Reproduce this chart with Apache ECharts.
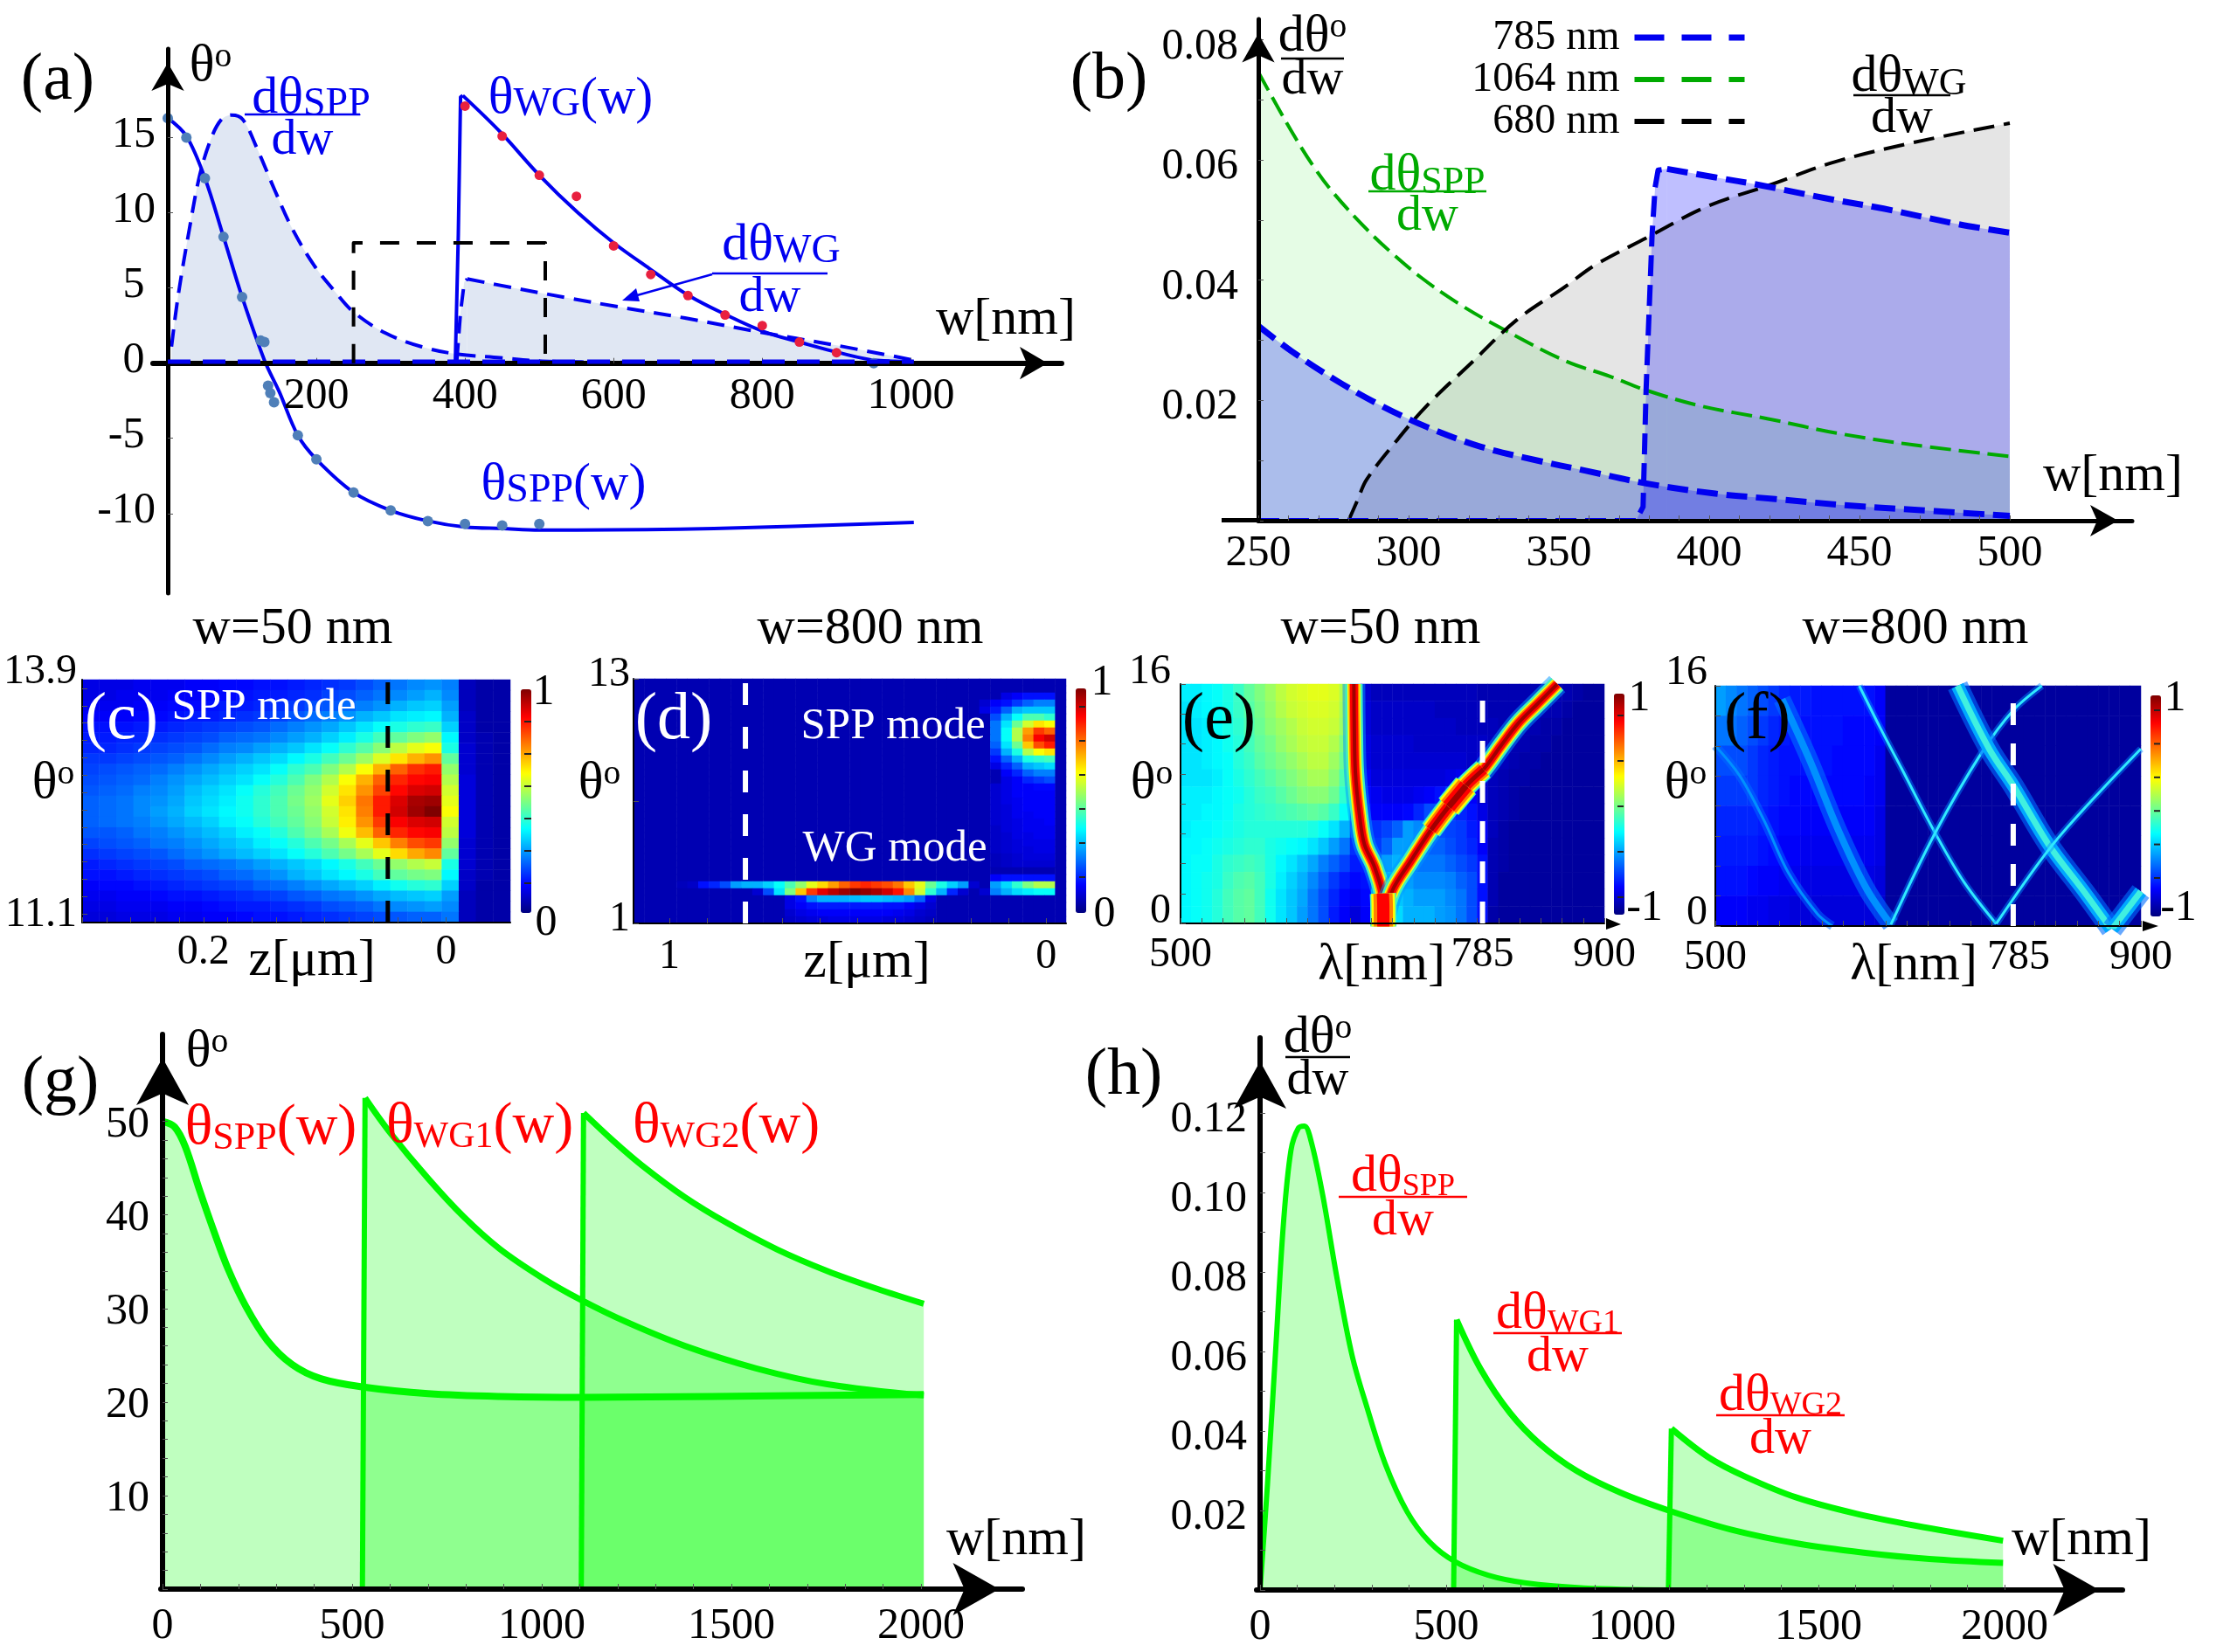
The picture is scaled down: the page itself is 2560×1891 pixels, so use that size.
<!DOCTYPE html>
<html>
<head>
<meta charset="utf-8">
<style>html,body{margin:0;padding:0;background:#fff}#main{width:2560px;height:1891px}</style>
<script src="https://cdn.jsdelivr.net/npm/echarts@6/dist/echarts.min.js"></script>
</head>
<body>
<div id="main"></div>
<script>
// (a) curves and points, [w, theta]
var aSpp = [[0,16.3],[25,15.1],[50,12.3],[75,8.4],[100,4.4],[130,0.2],[150,-1.9],[175,-4.8],[200,-6.4],[250,-8.6],[300,-9.8],[350,-10.5],[400,-10.9],[450,-11],[500,-11.1],[550,-11.1],[735,-11],[1004,-10.6]];
var aWgRise = [[387,0.2],[391,8.6],[394,17.7],[397,17.8]];
var aWg = [[397,17.8],[447,15.4],[500,12.5],[552,10],[600,8],[648,6.3],[701,4.5],[752,3.2],[802,2.1],[854,1.35],[903,0.7],[954,0.18],[1004,0.1]];
var aDSpp = [[5,1.1],[14,4.5],[29,8.9],[43,12.5],[58,14.9],[72,16.2],[86,16.5],[101,16.2],[120,14.3],[144,11.5],[168,8.9],[197,6.5],[226,4.7],[250,3.4],[293,2],[341,1.1],[389,0.6],[447,0.36],[504,0.13],[639,0.05]];
var aDWgRise = [[389,0.18],[394,3.4],[399,5.4],[403,5.6]];
var aDWg = [[403,5.6],[466,5],[543,4.3],[600,3.8],[696,3],[793,2.1],[898,1.2],[1004,0.2]];
var aFlat = [[0,0.1],[1004,0.1]];
var aBox = [[250,0],[250,8],[508,8],[508,0]];
var aSppDots = [[0,16.3],[25,15],[50,12.3],[75,8.4],[100,4.4],[125,1.5],[130,1.4],[135,-1.5],[138,-2],[143,-2.6],[175,-4.8],[200,-6.4],[250,-8.6],[300,-9.8],[350,-10.5],[400,-10.7],[450,-10.8],[500,-10.7],[950,0]];
var aWgDots = [[400,17.1],[450,15.1],[500,12.5],[550,11.1],[600,7.8],[650,5.9],[700,4.5],[750,3.2],[800,2.5],[850,1.4],[900,0.7]];
var aXLabels = [200,400,600,800,1000];
var aYLabels = [15,10,5,0,-5,-10];

// (b) dtheta/dw against w
var bGreen = [[250,0.0746],[261,0.0648],[268,0.0592],[275,0.0545],[286,0.0485],[294,0.0447],[304,0.0405],[316,0.0363],[329,0.0325],[352,0.0266],[367,0.024],[379,0.0217],[397,0.0191],[420,0.0169],[442,0.0146],[468,0.0126],[500,0.0107]];
var bBlueSpp = [[250,0.0324],[261,0.0282],[276,0.0233],[291,0.0191],[306,0.0156],[324,0.0123],[342,0.0101],[359,0.0083],[379,0.0062],[402,0.0045],[422,0.0036],[447,0.0025],[475,0.0016],[500,0.0008]];
var bBlueRise = [[250,0],[375.6,0],[378,0.0023],[379,0.0217],[381,0.0476],[382,0.0554],[383,0.0583],[386,0.0585]];
var bBlueWg = [[386,0.0585],[402,0.0571],[417,0.0558],[440,0.0535],[458,0.0519],[483,0.0493],[500,0.0479]];
var bBlack = [[280,0],[283,0.0034],[286,0.0068],[296,0.0133],[306,0.0191],[321,0.0263],[336,0.0334],[352,0.0389],[362,0.0425],[379,0.047],[399,0.0522],[420,0.0558],[442,0.0597],[468,0.0629],[500,0.0661]];
var bXLabels = [250,300,350,400,450,500];
var bYLabels = [0.02,0.04,0.06,0.08];

// (g) theta against w
var gSpp = [[0,50],[32,49.4],[60,47.3],[98,42.6],[135,38.3],[173,34.2],[220,30.2],[276,26.6],[342,24],[417,22.5],[530,21.6],[700,20.9],[888,20.6],[1113,20.5],[1452,20.6],[2007,20.8]];
var gWg1Rise = [[527,0],[534,52.5]];
var gWg1 = [[534,52.5],[596,49],[700,43.9],[794,39.8],[888,36.4],[1000,33.3],[1104,30.9],[1226,28.5],[1377,26],[1565,23.6],[1753,21.9],[2007,20.7]];
var gWg2Rise = [[1104,0],[1110,50.9]];
var gWg2 = [[1110,50.9],[1189,47.9],[1264,45.3],[1377,41.9],[1490,39.1],[1621,36.3],[1753,34],[1884,32.1],[2007,30.5]];
var gXLabels = [0,500,1000,1500,2000];
var gYLabels = [10,20,30,40,50];

// (h) dtheta/dw against w
var hSpp = [[0,0],[20,0.0267],[43,0.0621],[63,0.0924],[83,0.1106],[103,0.1162],[119,0.1167],[138,0.1126],[168,0.0995],[207,0.0783],[247,0.0591],[287,0.046],[336,0.0318],[395,0.0197],[455,0.0121],[524,0.0071],[613,0.0037],[711,0.0018],[870,0.0005],[1107,0]];
var hWg1Rise = [[520,0],[528,0.068]];
var hWg1 = [[528,0.068],[593,0.0555],[672,0.0445],[751,0.0368],[850,0.03],[968,0.0245],[1101,0.0199],[1265,0.0152],[1443,0.0117],[1621,0.0094],[1798,0.0078],[1996,0.0068]];
var hWg2Rise = [[1097,0],[1105,0.0406]];
var hWg2 = [[1105,0.0406],[1206,0.0333],[1304,0.0285],[1443,0.0232],[1601,0.0192],[1759,0.0162],[1996,0.0124]];
var hXLabels = [0,500,1000,1500,2000];
var hYLabels = [0.02,0.04,0.06,0.08,0.10,0.12];

// heat maps hold the position on the colour bar, 0 bottom to 100 top
var cRows = [
	[10,10,10,11,11,11,12,12,13,13,14,14,15,16,17,18,20,22,24,26,27,25,6,4,4],
	[10,10,11,11,11,12,12,13,13,14,15,15,16,17,19,20,22,24,26,28,30,26,6,4,4],
	[11,11,11,12,12,13,13,14,15,15,16,17,18,20,21,23,25,27,30,32,33,28,6,4,4],
	[12,12,12,13,13,14,15,15,16,17,18,19,21,23,25,27,30,32,35,36,37,30,7,4,4],
	[14,14,14,15,15,16,17,18,19,20,21,23,25,27,29,32,35,38,40,42,43,33,7,4,4],
	[15,15,16,16,17,18,19,20,22,23,24,26,28,30,33,36,40,44,47,50,52,37,7,5,4],
	[16,16,17,18,19,20,21,23,25,26,28,30,32,35,38,42,46,51,56,60,62,40,8,5,4],
	[18,18,19,20,21,22,24,26,28,30,32,34,37,40,44,48,53,59,65,70,73,47,8,5,4],
	[19,20,21,22,23,25,27,29,31,33,35,38,42,45,50,55,62,70,78,83,85,52,8,5,4],
	[20,21,22,23,25,27,29,31,33,35,38,41,45,50,55,62,70,78,84,87,88,55,9,5,4],
	[21,22,23,25,26,28,31,33,35,38,41,44,48,52,58,65,73,81,87,91,92,58,9,5,4],
	[22,23,24,26,27,29,32,34,36,39,42,45,49,53,60,67,76,85,91,96,97,60,9,5,4],
	[22,23,24,26,28,30,33,35,37,39,42,45,48,52,58,65,75,85,92,97,100,62,9,5,4],
	[22,23,24,25,27,29,31,33,36,38,41,44,47,51,57,64,73,82,88,91,92,58,9,5,4],
	[21,21,22,24,25,27,29,31,33,36,38,41,45,49,54,61,69,78,84,87,88,56,9,5,4],
	[19,20,21,22,24,25,27,29,31,33,36,38,41,45,49,54,60,68,75,80,82,52,8,5,4],
	[17,18,19,20,21,23,25,27,29,31,33,35,38,41,45,49,54,60,66,71,74,47,8,5,4],
	[15,16,17,18,19,20,22,23,24,26,28,30,32,34,37,40,44,48,52,55,57,40,8,5,4],
	[14,14,15,16,17,18,19,20,22,23,25,27,30,32,35,37,40,44,47,49,50,37,7,5,4],
	[12,13,13,14,15,16,17,18,19,20,22,23,25,27,29,31,33,36,39,41,42,33,7,4,4],
	[11,11,12,12,13,14,14,15,16,17,18,19,21,22,24,25,27,29,31,32,33,28,6,4,4],
	[10,10,11,11,11,12,12,13,14,15,15,16,17,18,20,21,22,24,26,27,28,26,6,4,4],
	[9,9,10,10,10,11,11,12,12,13,14,14,15,16,17,18,19,20,21,22,22,24,6,4,4]
];

// (d) is dark except for these runs: [row, first column, values]
var dBack = 5;
var dCols = 40, dRowCount = 35;
var dRuns = [
	[2,34,[10,12,14,14,14]],
	[3,32,[8,12,14,18,22,25,25]],
	[4,32,[10,15,22,30,32,32,32]],
	[5,33,[20,30,38,45,45,42]],
	[6,33,[24,35,48,58,65,62]],
	[7,33,[24,38,55,72,82,78]],
	[8,33,[24,38,55,75,88,92]],
	[9,33,[22,35,48,68,80,85]],
	[10,33,[18,30,40,55,62,65]],
	[11,33,[14,22,30,40,42,44]],
	[12,33,[10,16,22,30,32,34]],
	[13,34,[12,16,22,25,25]],
	[14,34,[10,12,16,18,20]],
	[15,33,[8,10,12,12,13,13]],
	[16,33,[8,10,12,12,12,12]],
	[17,33,[8,10,11,12,12,12]],
	[18,33,[8,9,11,12,12,12]],
	[19,33,[8,9,11,11,12,12]],
	[20,33,[8,9,10,11,11,12]],
	[21,33,[7,9,10,11,11,11]],
	[22,33,[7,8,10,10,11,11]],
	[23,33,[7,8,9,10,10,10]],
	[24,33,[7,8,9,9,10,10]],
	[25,33,[6,7,8,9,9,9]],
	[26,33,[6,7,8,8,8,8]],
	[28,33,[12,14,14,14,14,14]],
	[29,3,[5,6,7,14,16,20,28,30,30,33,38,45,52,60,66,72,78,82,84,82,80,76,68,60,48,40,33,28,8,5,28,34,42,50,55,55]],
	[30,11,[8,20,35,50,68,82,90,94,97,100,98,96,92,86,74,58,42,30,16,8,5,8,25,30,34,36,38,38]],
	[31,14,[10,14,25,30,30,30,31,32,32,31,30,28,22,10]],
	[32,14,[10,12,14,15,15,15,15,15,15,14,14,12,10,8]],
	[33,14,[8,10,11,12,12,12,12,12,12,12,11,10,8,7]],
	[34,14,[7,8,9,9,10,10,10,10,10,9,9,8,7,6]]
];

var eRows = [
	[36,36,37,38,40,43,47,50,53,56,58,59,60,60,59,55,30,8,6,6,6,6,6,6,6,6,6,6,5,5,5,5,5,5,5,5,5,4,3,3],
	[35,36,37,38,40,43,46,49,52,55,57,58,59,59,58,54,30,9,7,7,7,7,7,7,6,6,6,6,6,5,5,5,5,5,5,5,4,3,3,3],
	[35,35,36,38,40,42,45,48,51,53,55,57,58,58,57,53,30,9,7,7,7,7,7,7,7,7,6,6,6,6,5,5,5,5,4,4,3,3,3,3],
	[35,35,36,37,39,41,44,47,49,52,54,56,57,57,55,50,30,10,8,8,8,8,7,7,7,7,7,7,7,6,6,5,5,4,4,3,3,3,3,3],
	[35,35,36,37,38,41,43,46,48,50,52,54,56,56,53,48,28,10,8,8,8,8,8,8,8,8,8,7,8,7,6,5,4,4,3,3,3,3,3,3],
	[35,35,35,36,38,40,42,44,46,48,50,52,54,54,51,45,28,12,9,9,9,9,9,9,9,10,11,10,8,6,5,4,4,3,3,3,3,3,3,3],
	[36,36,36,37,38,39,41,43,44,46,48,50,51,51,48,42,26,13,11,10,10,10,11,12,14,18,16,12,8,6,5,4,3,3,3,3,3,3,3,3],
	[36,36,37,37,38,40,41,42,43,44,45,46,47,46,43,38,24,14,12,12,12,13,16,20,20,18,16,14,10,6,5,4,3,3,3,3,3,3,3,3],
	[36,37,37,38,39,40,41,41,41,41,41,41,40,38,35,30,20,16,17,19,22,28,26,22,20,19,18,15,12,6,4,3,3,3,3,3,3,3,3,3],
	[37,37,38,39,40,41,42,42,40,39,38,37,35,32,28,24,17,16,18,22,28,28,24,22,22,20,18,16,12,5,4,3,3,3,3,3,3,3,3,3],
	[37,38,38,40,42,43,44,43,40,37,35,32,29,25,22,19,15,15,20,28,30,26,24,24,24,22,20,18,14,5,4,3,3,3,3,3,3,3,3,3],
	[37,38,39,40,43,45,46,44,40,36,33,30,26,22,18,15,13,14,24,32,30,28,26,26,26,25,22,20,14,5,3,3,3,3,3,3,3,3,3,3],
	[37,38,39,41,44,46,47,44,39,35,32,29,24,20,16,13,11,13,30,36,32,30,28,28,28,26,24,20,14,5,3,3,3,3,3,3,3,3,3,3],
	[37,38,39,41,44,46,47,44,39,35,32,28,24,20,15,12,9,12,30,38,34,30,30,30,28,27,24,20,14,4,3,3,3,3,3,3,3,3,3,3]
];
var eLeft = [[663.6,16],[664,13],[665,10.1],[669,7.2],[673.5,5.3],[683.5,3.7],[691.4,1.4],[691.4,0]];
var eRight = [[691.4,0],[700,2.2],[716.6,4.1],[736.4,6.25],[753,7.8],[769.5,9.2],[786,10.3],[802.6,11.9],[819,13.4],[835.8,14.6],[855.6,16]];
var eSwell = [[736.4,6.25],[753,7.8],[769.5,9.2],[786,10.3]];
var eBlob = [[753,7.8],[769.5,9.2]];
var eFoot = [[691,2],[691.4,1],[691.4,-0.2]];

// (f) left part, right of it the picture is dark
var fLeft = [
	[28,26,24,22,20,18,16,15,15,14,14,14,14,14,14,12],
	[24,24,22,20,18,16,15,14,14,14,14,14,13,13,13,12],
	[20,20,20,18,16,15,14,14,14,14,14,13,13,13,13,11],
	[18,18,18,18,16,15,14,13,13,13,13,13,13,13,12,11],
	[16,16,16,16,15,14,13,13,12,12,12,12,12,12,12,10],
	[15,15,15,15,14,13,12,12,11,11,11,11,11,11,11,10],
	[14,14,14,13,12,12,11,11,10,10,10,10,10,10,10,9],
	[12,12,12,11,11,10,10,9,9,9,9,9,9,9,9,8]
];
var fDark = 3;
var fCols = 40;
var fFall1 = [[635.3,16],[655,13.2],[675,10.5],[706.6,6.2],[734,2.9],[764,0.15]];
var fRise1 = [[665,0.1],[706.6,6.2],[750.8,11.6],[780.5,14.4],[807,16]];
var fFall2 = [[727.7,16],[757.4,11.8],[780.5,9.3],[813.5,5.4],[846.5,2.3],[872,-0.2]];
var fRise2 = [[764,0.15],[813.5,5.1],[853,8.3],[900,11.8]];
var fRise3 = [[873,-0.2],[900,2.3]];
var fFaint1 = [[500,12],[523,10],[546,7],[569,3.5],[596,0.8],[610,0]];
var fFaint2 = [[562.7,15.1],[589,11],[615.5,6.4],[642,2.5],[665,0.1]];

var serif = 'Liberation Serif';
var blue = '#0000f0', red = '#ff0000', darkGreen = '#00aa00', lime = '#00f800';
var jet = ['#00007f','#0000ff','#007fff','#00ffff','#7fff7f','#ffff00','#ff7f00','#ff0000','#7f0000'];

function ticks(from, to, step) {
	var out = [];
	for (var v = from; v <= to + step / 1000; v += step) out.push(+v.toFixed(4));
	return out;
}

function plotAxis(gridIndex, min, max, labels, cfg) {
	var arrow = cfg.arrow;
	return {
		type: 'value', gridIndex: gridIndex, min: min, max: max, z: 3, inverse: !!cfg.inverse,
		position: cfg.position,
		splitLine: { show: false },
		axisLine: {
			show: true, onZero: !!cfg.onZero,
			symbol: arrow ? ['none', 'arrow'] : ['none', 'none'],
			symbolSize: arrow || [10, 10],
			symbolOffset: arrow ? [0, -arrow[1] / 2] : [0, 0],
			lineStyle: { color: '#000', width: cfg.width || 2 }
		},
		axisTick: {
			show: true, inside: true, length: cfg.tickLength || 6,
			customValues: cfg.ticks || labels,
			lineStyle: { color: '#555', width: 1 }
		},
		axisLabel: {
			customValues: labels, fontFamily: serif, fontSize: cfg.fontSize || 50, color: '#000',
			margin: cfg.margin, verticalAlign: cfg.labelAlign, lineHeight: cfg.labelLine,
			formatter: cfg.formatter || function (v) { return String(v); },
			showMinLabel: true, showMaxLabel: true
		}
	};
}

function hidden(gridIndex, size, inverse) {
	var names = [];
	for (var i = 0; i < size; i++) names.push(i);
	return { type: 'category', gridIndex: gridIndex, data: names, show: false, inverse: !!inverse };
}

function curve(g, data, color, width, opt) {
	opt = opt || {};
	return {
		type: 'line', xAxisIndex: g, yAxisIndex: g, data: data, name: opt.name, showSymbol: false, symbol: 'none',
		smooth: opt.straight ? false : 0.35, z: opt.z || 2, silent: true,
		lineStyle: { color: color, width: width, type: opt.dash || 'solid', cap: opt.cap || 'butt', join: 'round' },
		areaStyle: opt.fill ? { color: opt.fill, opacity: 1 } : undefined
	};
}

function dots(g, data, color, size) {
	return { type: 'scatter', xAxisIndex: g, yAxisIndex: g, data: data, symbolSize: size, itemStyle: { color: color, opacity: 1 }, z: 2, silent: true };
}

function heat(g, rows) {
	var data = [];
	rows.forEach(function (row, r) {
		row.forEach(function (v, c) { data.push([c, r, v]); });
	});
	return { type: 'heatmap', xAxisIndex: g, yAxisIndex: g, data: data, progressive: 0, silent: true, z: 1 };
}

function layered(g, data, layers) {
	return layers.map(function (l) {
		return curve(g, data, l[1], l[0], { z: 2 });
	});
}

function expandRuns() {
	var rows = [];
	for (var r = 0; r < dRowCount; r++) {
		rows.push([]);
		for (var c = 0; c < dCols; c++) rows[r].push(dBack);
	}
	dRuns.forEach(function (run) {
		run[2].forEach(function (v, i) { rows[run[0]][run[1] + i] = v; });
	});
	return rows;
}

function fillDark(rows) {
	return rows.map(function (row) {
		var out = row.slice();
		while (out.length < fCols) out.push(fDark);
		return out;
	});
}

// text helpers, all positions are picture pixels
function text(x, y, str, size, color, rich) {
	return {
		type: 'text', x: x, y: y, z: 100, silent: true,
		style: { text: str, fontFamily: serif, fontSize: size, fill: color || '#000', align: 'center', verticalAlign: 'middle', rich: rich }
	};
}

function subRich(color, size, subSize, drop) {
	return {
		n: { fontFamily: serif, fontSize: size, lineHeight: size, fill: color, color: color, verticalAlign: 'top', padding: [0, 0, drop, 0] },
		s: { fontFamily: serif, fontSize: subSize, lineHeight: subSize, fill: color, color: color, verticalAlign: 'bottom' }
	};
}

function sup(x, y, size, lead) {
	return text(x, y, '{n|' + (lead || '') + 'θ}{u|o}', size, '#000', {
		n: { fontFamily: serif, fontSize: size, lineHeight: size, color: '#000', fill: '#000' },
		u: { fontFamily: serif, fontSize: size * 0.66, lineHeight: size * 0.66, color: '#000', fill: '#000', verticalAlign: 'top' }
	});
}

function subText(x, y, main, sub, tail, color, size, subSize, drop) {
	return text(x, y, '{n|' + main + '}{s|' + sub + '}' + (tail ? '{n|' + tail + '}' : ''), size, color, subRich(color, size, subSize, drop));
}

function bar(x1, x2, y, color) {
	return { type: 'line', z: 100, silent: true, shape: { x1: x1, y1: y, x2: x2, y2: y }, style: { stroke: color, lineWidth: 2.5 } };
}

function fraction(x1, x2, barY, topY, botY, sub, color, subSize, topDx) {
	var cx = (x1 + x2) / 2;
	return [
		subText(cx + (topDx || 0), topY + 8, 'dθ', sub, '', color, 60, subSize, 12),
		bar(x1, x2, barY, color),
		text(cx, botY, 'dw', 58, color)
	];
}

function supFraction(x1, x2, barY, topY, botY) {
	return [sup((x1 + x2) / 2, topY, 60, 'd'), bar(x1, x2, barY, '#000'), text((x1 + x2) / 2, botY, 'dw', 58, '#000')];
}

var labels = [];
[['(a)',66,93],['(b)',1269,92],['(c)',139,825,'#fff'],['(d)',771,825,'#fff'],['(e)',1395,825],['(f)',2011,825],['(g)',69,1241],['(h)',1286,1232]].forEach(function (p) {
	labels.push(text(p[1], p[2], p[0], 76, p[3] || '#000'));
});
[['w=50 nm',335],['w=800 nm',996],['w=50 nm',1580],['w=800 nm',2192]].forEach(function (p) {
	labels.push(text(p[1], 720, p[0], 60));
});
[[1151,366],[2418,545],[1163,1763],[2382,1763]].forEach(function (p) {
	labels.push(text(p[0], p[1], 'w[nm]', 60));
});
[[357,1100,'z[μm]'],[992,1102,'z[μm]'],[1581,1105,'λ[nm]'],[2190,1105,'λ[nm]']].forEach(function (p) {
	labels.push(text(p[0], p[1], p[2], 60));
});
[[622,793,'1'],[625,1057,'0'],[1261,782,'1'],[1264,1047,'0'],[1876,800,'1'],[1882,1040,'-1'],[2489,800,'1'],[2493,1040,'-1']].forEach(function (p) {
	labels.push(text(p[0], p[1], p[2], 50));
});
labels.push(text(302, 810, 'SPP mode', 51, '#fff'), text(1022, 832, 'SPP mode', 51, '#fff'), text(1024, 972, 'WG mode', 51, '#fff'));
[[241,76],[61,897],[686,897],[1318,897],[1929,897],[237,1204]].forEach(function (p) {
	labels.push(sup(p[0], p[1], 60));
});
labels.push(subText(653, 113, 'θ', 'WG', '(w)', blue, 60, 46, 14));
labels.push(subText(645, 555, 'θ', 'SPP', '(w)', blue, 60, 46, 14));
labels.push(subText(310, 1292, 'θ', 'SPP', '(w)', red, 66, 44, 14));
labels.push(subText(549, 1290, 'θ', 'WG1', '(w)', red, 66, 42, 14));
labels.push(subText(831, 1290, 'θ', 'WG2', '(w)', red, 66, 42, 14));
labels = labels.concat(
	fraction(280, 412, 131, 105, 161, 'SPP', blue, 46, 10),
	fraction(815, 947, 313, 273, 341, 'WG', blue, 46, 13),
	fraction(1566, 1701, 219, 193, 248, 'SPP', darkGreen, 44),
	fraction(2121, 2232, 109, 80, 136, 'WG', '#000', 44, 8),
	fraction(1532, 1679, 1370, 1339, 1398, 'SPP', red, 36),
	fraction(1709, 1856, 1526, 1496, 1554, 'WG1', red, 38),
	fraction(1964, 2111, 1620, 1590, 1648, 'WG2', red, 38),
	supFraction(1466, 1538, 67, 42, 92),
	supFraction(1471, 1545, 1210, 1188, 1237)
);
// the small arrow of (a), the start of the axis in (b) and the tiny arrows under (e) and (f)
labels.push({ type: 'line', z: 100, silent: true, shape: { x1: 815, y1: 314, x2: 722, y2: 340 }, style: { stroke: blue, lineWidth: 2.5 } });
labels.push({ type: 'polygon', z: 100, silent: true, shape: { points: [[712, 344],[728, 330],[732, 345]] }, style: { fill: blue } });
labels.push({ type: 'rect', z: 100, silent: true, shape: { x: 1398, y: 593, width: 44, height: 5 }, style: { fill: '#000' } });
labels.push({ type: 'polygon', z: 100, silent: true, shape: { points: [[1838, 1051],[1855, 1058],[1838, 1064]] }, style: { fill: '#000' } });
labels.push({ type: 'polygon', z: 100, silent: true, shape: { points: [[2452, 1054],[2470, 1060],[2452, 1066]] }, style: { fill: '#000' } });
// tick marks on the colour bars: left, right, first y, step, count
[[596,608,826,37,6],[1231,1242,809,39,6],[1847,1858,819,52,5],[2461,2472,813,38.4,6]].forEach(function (t) {
	for (var i = 0; i < t[4]; i++) {
		labels.push({ type: 'line', z: 100, silent: true, shape: { x1: t[0] + 4, y1: t[2] + i * t[3], x2: t[1], y2: t[2] + i * t[3] }, style: { stroke: '#222', lineWidth: 2 } });
	}
});

var fmt2 = function (v) { return v.toFixed(2); };

var grids = [
	{ left: 175, top: 56, width: 1040, height: 623 },
	{ left: 1440, top: 22, width: 1000, height: 574 },
	{ left: 184, top: 1184, width: 986, height: 635 },
	{ left: 1438, top: 1188, width: 991, height: 632 },
	{ left: 94, top: 778, width: 490, height: 278 },
	{ left: 725, top: 777, width: 495, height: 280 },
	{ left: 1351, top: 783, width: 485, height: 274 },
	{ left: 1963, top: 785, width: 487, height: 275 }
];
grids = grids.concat(grids.slice(4));

var xAxes = [
	plotAxis(0, -20, 1203, aXLabels, { arrow: [28, 32], width: 6, onZero: true, margin: -250 }),
	plotAxis(1, 250, 540.7, bXLabels, { arrow: [27, 32], width: 5, onZero: true, margin: 13, ticks: ticks(250, 500, 10) }),
	plotAxis(2, -4.6, 2267, gXLabels, { arrow: [45, 53], width: 6, onZero: true, margin: 18, ticks: ticks(0, 2000, 100) }),
	plotAxis(3, -9.4, 2317, hXLabels, { arrow: [45, 53], width: 6, onZero: true, margin: 18, ticks: ticks(0, 2000, 100) }),
	hidden(4, 25), hidden(5, dCols), hidden(6, 40), hidden(7, fCols),
	plotAxis(8, -0.053, 0.3, [0.2, 0], { inverse: true, position: 'bottom', margin: 10, ticks: ticks(0, 0.3, 0.02), fontSize: 48, formatter: function (v) { return v === 0 ? '0' : '0.2'; } }),
	plotAxis(9, -0.053, 1.095, [1, 0], { inverse: true, position: 'bottom', margin: 14, ticks: ticks(0, 1, 0.1), fontSize: 48 }),
	plotAxis(10, 500, 900, [500, 785, 900], { position: 'bottom', margin: 12, ticks: ticks(500, 900, 20), fontSize: 48 }),
	plotAxis(11, 500, 900, [500, 785, 900], { position: 'bottom', margin: 12, ticks: ticks(500, 900, 20), fontSize: 48 })
];
var yAxes = [
	plotAxis(0, -15.3, 20.9, aYLabels, { arrow: [28, 32], width: 5, onZero: true, margin: -3, labelAlign: 'bottom', labelLine: 6, formatter: function (v) { return Math.abs(v) < 10 ? v + ' ' : String(v); } }),
	plotAxis(1, 0, 0.0834, bYLabels, { arrow: [28, 33], width: 5, onZero: true, margin: 23, labelAlign: 'top', labelLine: 16, formatter: fmt2, ticks: ticks(0, 0.08, 0.01) }),
	plotAxis(2, 0, 59.3, gYLabels, { arrow: [45, 54], width: 6, onZero: true, margin: 13, labelAlign: 'top', labelLine: 8, ticks: ticks(0, 50, 2) }),
	plotAxis(3, 0, 0.1389, hYLabels, { arrow: [45, 54], width: 6, onZero: true, margin: 11, labelAlign: 'top', labelLine: 16, formatter: fmt2, ticks: ticks(0, 0.12, 0.01) }),
	hidden(4, cRows.length, true), hidden(5, dRowCount, true), hidden(6, eRows.length, true), hidden(7, fLeft.length, true),
	plotAxis(8, 11.1, 13.9, [11.1, 13.9], { position: 'left', margin: 6, labelAlign: 'bottom', labelLine: 17, fontSize: 48, ticks: ticks(11.2, 13.8, 0.2) }),
	plotAxis(9, 11, 13, [11, 13], { position: 'left', margin: 4, labelAlign: 'bottom', labelLine: 10, fontSize: 48, ticks: [11, 12, 13], formatter: function (v) { return v === 11 ? '1' : '13'; } }),
	plotAxis(10, 0, 16, [0, 16], { position: 'left', margin: 11, labelAlign: 'bottom', labelLine: 28, fontSize: 48, ticks: ticks(0, 16, 2) }),
	plotAxis(11, 0, 16, [0, 16], { position: 'left', margin: 9, labelAlign: 'bottom', labelLine: 30, fontSize: 48, ticks: ticks(0, 16, 2) })
];

var bFill = { blue: 'rgba(0,0,255,0.25)', green: 'rgba(0,230,0,0.1)', black: 'rgba(0,0,0,0.1)' };
var gFill = 'rgba(0,255,0,0.25)';
var eLayers = [[26,'rgba(0,150,255,0.5)'],[20,'#40f0c0'],[15,'#ffff00'],[12,'#ff8000'],[9,'#ff0000'],[4,'#a00000']];
var eSwellLayers = [[25,'#40f0c0'],[21,'#ffff00'],[17,'#ff8000'],[12,'#ff0000'],[5,'#a00000']];
var eBlobLayers = [[30,'#40f0c0'],[27,'#ffff00'],[22,'#ff8000'],[16,'#ff0000'],[7,'#a00000']];
var eFootLayers = [[30,'#40f0c0'],[27,'#ffff00'],[22,'#ff8000'],[14,'#ff0000']];
var thin = [[8,'rgba(0,140,255,0.45)'],[3,'#30e8ff']];
var broad = [[24,'rgba(0,110,255,0.6)'],[15,'#00a8ff'],[7,'#40f0e0']];
var faint1 = [[10,'rgba(0,110,255,0.5)'],[3,'#0090ff']];
var faint2 = [[20,'rgba(0,110,255,0.6)'],[8,'#0090ff']];

var series = [
	curve(0, aDSpp, blue, 4, { dash: [20, 11], fill: '#e0e7f3' }),
	curve(0, aDWgRise, blue, 4, { dash: [20, 11], fill: '#e0e7f3', straight: true }),
	curve(0, aDWg, blue, 4, { dash: [20, 11], fill: '#e0e7f3' }),
	curve(0, aFlat, blue, 5, { dash: [26, 14], z: 4, straight: true }),
	curve(0, aBox, '#000', 4, { dash: [22, 20], z: 4, straight: true }),
	curve(0, aSpp, blue, 4),
	curve(0, aWgRise, blue, 4, { straight: true }),
	curve(0, aWg, blue, 4),
	dots(0, aSppDots, '#4f7fb8', 12),
	dots(0, aWgDots, '#e8203f', 11),

	curve(1, bGreen, darkGreen, 4, { name: '1064 nm', dash: [24, 9], fill: bFill.green }),
	curve(1, bBlack, '#000', 4, { name: '680 nm', dash: [24, 11], fill: bFill.black }),
	curve(1, bBlueSpp, blue, 7, { name: '785 nm', dash: [24, 10], fill: bFill.blue }),
	curve(1, bBlueRise, blue, 6, { name: '785 nm', dash: [24, 10], fill: bFill.blue, straight: true }),
	curve(1, bBlueWg, blue, 7, { name: '785 nm', dash: [24, 10], fill: bFill.blue }),

	curve(2, gSpp, lime, 8, { fill: gFill }),
	curve(2, gWg1Rise, lime, 6, { straight: true, fill: gFill }),
	curve(2, gWg1, lime, 7, { fill: gFill }),
	curve(2, gWg2Rise, lime, 6, { straight: true, fill: gFill }),
	curve(2, gWg2, lime, 7, { fill: gFill }),

	curve(3, hSpp, lime, 6, { fill: gFill }),
	curve(3, hWg1Rise, lime, 6, { straight: true, fill: gFill }),
	curve(3, hWg1, lime, 7, { fill: gFill }),
	curve(3, hWg2Rise, lime, 6, { straight: true, fill: gFill }),
	curve(3, hWg2, lime, 7, { fill: gFill })
];
var heatIndex = series.length;
series.push(heat(4, cRows), heat(5, expandRuns()), heat(6, eRows), heat(7, fillDark(fLeft)));
series = series.concat(
	layered(10, eLeft, eLayers),
	layered(10, eRight, eLayers),
	layered(10, eFoot, eFootLayers),
	layered(10, eSwell, eSwellLayers),
	layered(10, eBlob, eBlobLayers),
	layered(11, fFaint1, faint1),
	layered(11, fFaint2, faint2),
	layered(11, fFall1, thin),
	layered(11, fRise1, thin),
	layered(11, fFall2, broad),
	layered(11, fRise2, thin),
	layered(11, fRise3, broad),
	[
		curve(8, [[0.048, 11.1], [0.048, 13.9]], '#000', 5, { dash: [25, 25], z: 4, straight: true }),
		curve(9, [[0.798, 11], [0.798, 13]], '#fff', 6, { dash: [25, 25], z: 4, straight: true }),
		curve(10, [[785, 0], [785, 16]], '#fff', 6, { dash: [25, 21], z: 4, straight: true }),
		curve(11, [[780, 0], [780, 16]], '#fff', 6, { dash: [25, 21], z: 4, straight: true })
	]
);

function colourBar(i, left, top, h) {
	return {
		type: 'continuous', seriesIndex: heatIndex + i, min: 0, max: 100, calculable: false, realtime: false,
		left: left, top: top, itemWidth: 12, itemHeight: h, padding: 0, text: null, showLabel: false,
		inRange: { color: jet }, hoverLink: false
	};
}

var option = {
	animation: false,
	backgroundColor: '#fff',
	grid: grids,
	xAxis: xAxes,
	yAxis: yAxes,
	series: series,
	visualMap: [colourBar(0, 596, 789, 256), colourBar(1, 1231, 788, 257), colourBar(2, 1847, 794, 253), colourBar(3, 2461, 796, 253)],
	legend: {
		data: [
			{ name: '785 nm', lineStyle: { color: blue, width: 7, type: [34, 20] } },
			{ name: '1064 nm', lineStyle: { color: darkGreen, width: 6, type: [34, 20] } },
			{ name: '680 nm', lineStyle: { color: '#000', width: 6, type: [34, 20] } }
		],
		orient: 'vertical', align: 'right', selectedMode: false,
		right: 2560 - 2000, top: 19, padding: 0, itemWidth: 126, itemHeight: 14, itemGap: 0,
		itemStyle: { opacity: 0 },
		textStyle: { fontFamily: serif, fontSize: 48, lineHeight: 46, color: '#000', padding: [0, 12, 0, 0] }
	},
	graphic: { elements: labels }
};

var myChart = echarts.init(document.getElementById('main'), null, { renderer: 'canvas' });
myChart.setOption(option);
</script>
</body>
</html>
